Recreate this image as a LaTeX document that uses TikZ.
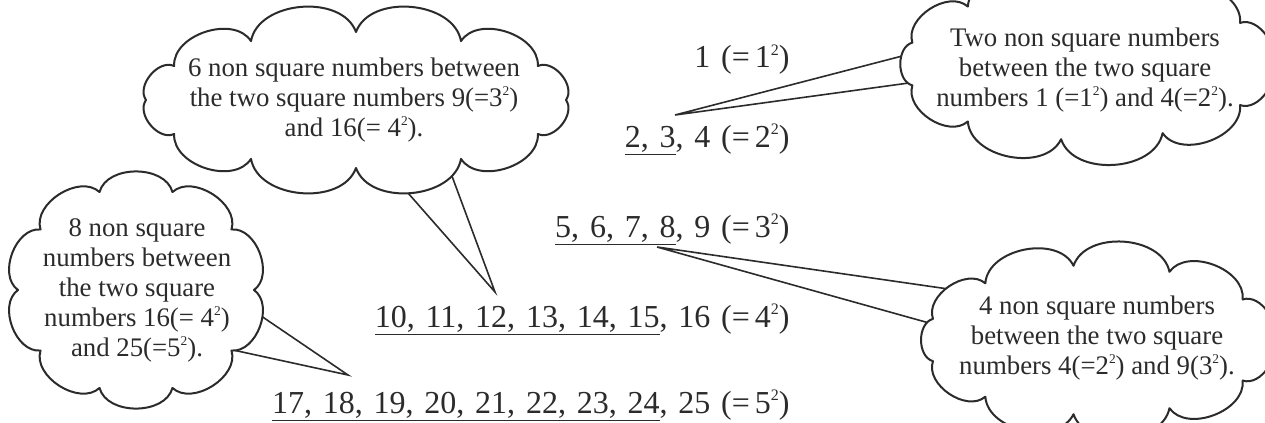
\documentclass[tikz,border=0pt]{standalone}
\usepackage{fontspec}
\setmainfont{Liberation Serif}
\usetikzlibrary{positioning,calc}
\definecolor{ink}{HTML}{2B2B2B}

% small raised 2 as in the printed page
\newcommand{\sqd}[1]{\raisebox{0.85ex}{\scalebox{0.5}{#1}}}
\newcommand{\eqsq}[1]{(=\hspace{2.5pt}#1\sqd{2})}
% wider spaces in the rows of numbers
\newcommand{\rowspaces}{\spaceskip=5.4pt plus 1pt\relax}
% cloud of puffs round a centre: centre, x radius, y radius, puffs
\newcommand{\puffcloud}[4]{%
  \filldraw[cloudline] ($(#1)+(0:#2 and #3)$)
    \foreach \k in {1,...,#4} { to[bend left=75] ($(#1)+({360*\k/#4}:#2 and #3)$) } -- cycle;}

\tikzset{
  numrow/.style={anchor=base east, inner sep=0pt, text=ink,
    font=\fontsize{16}{19}\selectfont, execute at begin node=\rowspaces},
  cloudline/.style={draw=ink, line width=1pt, fill=white, line join=round},
  cloudtext/.style={inner sep=0pt, align=center, text=ink, font=\fontsize{13.4}{15}\selectfont},
  tail/.style={draw=ink, line width=0.8pt},
}

\begin{document}
\begin{tikzpicture}[x=0.5pt, y=-0.5pt]
  \useasboundingbox (0,0) rectangle (1265,423);
  \clip (0,0) rectangle (1265,423);

  % the rows of numbers
  \node[numrow] (r1) at (790,68)  {1 \eqsq{1}};
  \node[numrow] (r2) at (790,147) {\underline{2, 3}, 4 \eqsq{2}};
  \node[numrow] (r3) at (790,237) {\underline{5, 6, 7, 8}, 9 \eqsq{3}};
  \node[numrow] (r4) at (790,327) {\underline{10, 11, 12, 13, 14, 15}, 16 \eqsq{4}};
  \node[numrow] (r5) at (790,413) {\underline{17, 18, 19, 20, 21, 22, 23, 24}, 25 \eqsq{5}};

  % tips of the tails and centres of the clouds
  \coordinate (t1) at (495,292);
  \coordinate (t2) at (675,115);
  \coordinate (t3) at (657,247);
  \coordinate (t4) at (348,375);
  \coordinate (k1) at (356,100);
  \coordinate (k2) at (1087,64);
  \coordinate (k3) at (1098,340);
  \coordinate (k4) at (136,290);

  \draw[tail] (379,160) -- (t1) -- (446,160);
  \draw[tail] (960,41) -- (t2) -- (960,76);
  \draw[tail] (990,295) -- (t3) -- (990,340);
  \draw[tail] (220,288) -- (t4) -- (210,345);

  % the clouds
  \puffcloud{k1}{210}{68}{12}
  \puffcloud{k2}{182}{76}{11}
  \puffcloud{k3}{172}{75}{11}
  \puffcloud{k4}{118}{103}{10}

  \node[cloudtext] (c1) at (354,100)
    {6 non square numbers between\\ the two square numbers 9(=3\sqd{2})\\ and 16(= 4\sqd{2}).};
  \node[cloudtext] (c2) at (1085,70)
    {Two non square numbers\\ between the two square\\ numbers 1 (=1\sqd{2}) and 4(=2\sqd{2}).};
  \node[cloudtext] (c3) at (1097,338)
    {4 non square numbers\\ between the two square\\ numbers 4(=2\sqd{2}) and 9(3\sqd{2}).};
  \node[cloudtext] (c4) at (137,290)
    {8 non square\\ numbers between\\ the two square\\ numbers 16(= 4\sqd{2})\\ and 25(=5\sqd{2}).};
\end{tikzpicture}
\end{document}
